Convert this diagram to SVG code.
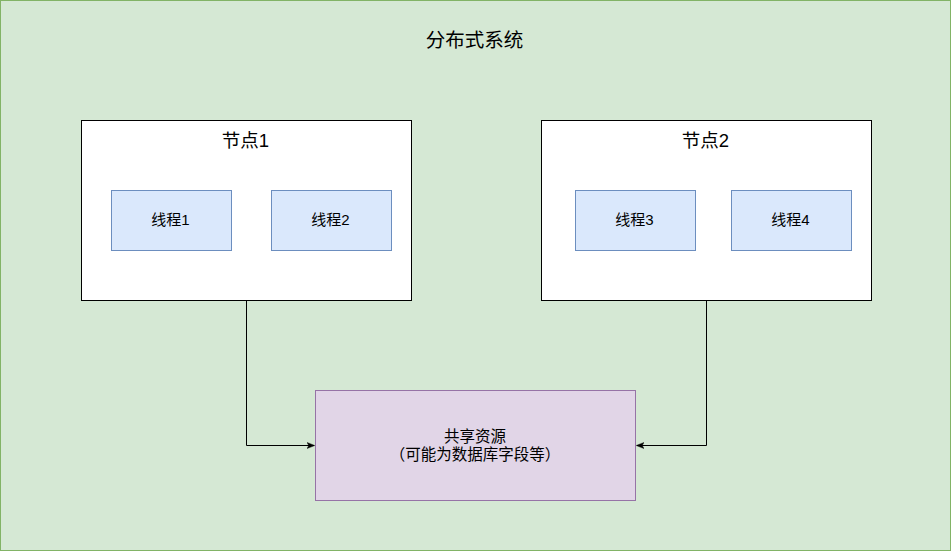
<svg xmlns="http://www.w3.org/2000/svg" width="951" height="551" viewBox="0 0 951 551">
<defs>
<style>
text{font-family:"Liberation Sans","Noto Sans CJK SC",sans-serif;fill:#000;text-anchor:middle;dominant-baseline:central}
.node{fill:#ffffff;stroke:#000;stroke-width:1}
.thread{fill:#dae8fc;stroke:#6c8ebf;stroke-width:1}
.title{font-size:19.5px}
.t18{font-size:18.5px}
.t15{font-size:15px}
.t155{font-size:15.5px}
.halt{font-feature-settings:"halt"}
.edge{fill:none;stroke:#000;stroke-width:1}
</style>
<marker id="arr" viewBox="0 0 10 10" refX="9" refY="5" markerWidth="8" markerHeight="8" markerUnits="userSpaceOnUse" orient="auto">
<path d="M0,1 L10,5 L0,9 L2.5,5 Z" fill="#000" stroke="#000" stroke-width="0.5"/>
</marker>
</defs>
<g id="system">
<rect x="0.5" y="0.5" width="950" height="550" fill="#d5e8d4" stroke="#82b366"/>
<text class="title" x="474.5" y="39.5">分布式系统</text>
</g>
<g id="node1">
<rect class="node" x="81.5" y="120.5" width="330" height="180"/>
<text class="t18" x="245.5" y="140">节点1</text>
</g>
<g id="thread1">
<rect class="thread" x="111.5" y="190.5" width="120" height="60"/>
<text class="t15" x="170.5" y="219.5">线程1</text>
</g>
<g id="thread2">
<rect class="thread" x="271.5" y="190.5" width="120" height="60"/>
<text class="t15" x="330.5" y="219.5">线程2</text>
</g>
<g id="node2">
<rect class="node" x="541.5" y="120.5" width="330" height="180"/>
<text class="t18" x="705.5" y="140">节点2</text>
</g>
<g id="thread3">
<rect class="thread" x="575.5" y="190.5" width="120" height="60"/>
<text class="t15" x="634.5" y="219.5">线程3</text>
</g>
<g id="thread4">
<rect class="thread" x="731.5" y="190.5" width="120" height="60"/>
<text class="t15" x="790.5" y="219.5">线程4</text>
</g>
<g id="shared">
<rect x="315.5" y="390.5" width="320" height="110" fill="#e1d5e7" stroke="#9673a6"/>
<text class="t155" x="475" y="436">共享资源</text>
<text class="t155 halt" x="475" y="454">（可能为数据库字段等）</text>
</g>
<g id="connectors">
<path class="edge" d="M246.5,300.5 V445.5 H314" marker-end="url(#arr)"/>
<path class="edge" d="M706.5,300.5 V445.5 H637" marker-end="url(#arr)"/>
</g>
</svg>
